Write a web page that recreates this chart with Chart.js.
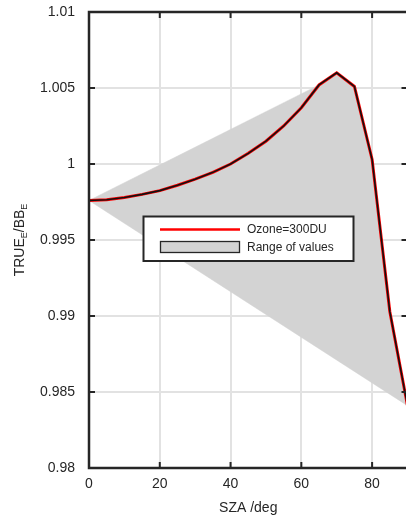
<!DOCTYPE html>
<html>
<head>
<meta charset="utf-8">
<script src="https://cdn.jsdelivr.net/npm/chart.js@4.4.1/dist/chart.umd.min.js"></script>
<style>
  html, body { margin: 0; padding: 0; background: #fff; overflow: hidden; }
  #wrap { width: 410px; height: 517px; }
</style>
</head>
<body>
<div id="wrap"><canvas id="c" width="410" height="517"></canvas></div>
<script>
// --- DATA ---
const sza = [0, 5, 10, 15, 20, 25, 30, 35, 40, 45, 50, 55, 60, 65, 70, 75, 80, 85, 90];
const ratio300 = [0.9976, 0.99765, 0.9978, 0.9980, 0.99825, 0.9986, 0.9990, 0.99945, 1.0000, 1.0007,
                  1.0015, 1.0025, 1.0037, 1.0052, 1.0060, 1.0051, 1.0003, 0.9903, 0.9841];
// outline of the range band (from the starting point to the curve)
const rangeTopSza = [0, 65, 70, 75, 80, 85, 90];
const rangeTopVal = [0.9976, 1.0052, 1.0060, 1.0051, 1.0003, 0.9903, 0.9841];
const rangeBotSza = [0, 90];
const rangeBotVal = [0.9976, 0.9841];
const xTicks = [0, 20, 40, 60, 80];
const yTicks = [0.98, 0.985, 0.99, 0.995, 1, 1.005, 1.01];

const pts = (xs, ys) => xs.map((x, i) => ({ x: x, y: ys[i] }));
const INK = '#262626';
const FONT = '"Liberation Sans", Arial, sans-serif';

// frame, inward ticks, axis title with subscripts, legend
const decor = {
  id: 'decor',
  afterDraw(chart) {
    const ctx = chart.ctx;
    const a = chart.chartArea;
    const xs = chart.scales.x, ys = chart.scales.y;
    ctx.save();
    ctx.strokeStyle = INK;
    ctx.lineWidth = 2.5;
    ctx.beginPath();
    ctx.moveTo(a.right, a.top); ctx.lineTo(a.left, a.top);
    ctx.lineTo(a.left, a.bottom); ctx.lineTo(a.right, a.bottom);
    ctx.lineTo(a.right, a.top);
    ctx.stroke();
    ctx.lineWidth = 2;
    ctx.beginPath();
    yTicks.forEach(v => {
      const p = ys.getPixelForValue(v);
      ctx.moveTo(a.left, p); ctx.lineTo(a.left + 6, p);
      ctx.moveTo(a.right, p); ctx.lineTo(a.right - 6, p);
    });
    xTicks.forEach(v => {
      const p = xs.getPixelForValue(v);
      ctx.moveTo(p, a.bottom); ctx.lineTo(p, a.bottom - 6);
      ctx.moveTo(p, a.top); ctx.lineTo(p, a.top + 6);
    });
    ctx.stroke();

    // y title: TRUE_E/BB_E
    ctx.fillStyle = INK;
    ctx.textBaseline = 'alphabetic';
    ctx.textAlign = 'left';
    const parts = [['TRUE', 14, 0], ['E', 9, 3], ['/BB', 14, 0], ['E', 9, 3]];
    let total = 0;
    parts.forEach(p => { ctx.font = p[1] + 'px ' + FONT; total += ctx.measureText(p[0]).width; });
    ctx.translate(24, (a.top + a.bottom) / 2);
    ctx.rotate(-Math.PI / 2);
    let cx = -total / 2;
    parts.forEach(p => {
      ctx.font = p[1] + 'px ' + FONT;
      ctx.fillText(p[0], cx, p[2]);
      cx += ctx.measureText(p[0]).width;
    });
    ctx.setTransform(1, 0, 0, 1, 0, 0);

    // legend
    ctx.fillStyle = '#fff';
    ctx.fillRect(143.5, 216.5, 210, 44.5);
    ctx.strokeStyle = INK;
    ctx.lineWidth = 2;
    ctx.strokeRect(143.5, 216.5, 210, 44.5);
    ctx.strokeStyle = '#ff0000';
    ctx.lineWidth = 2.5;
    ctx.beginPath(); ctx.moveTo(160, 229.5); ctx.lineTo(240, 229.5); ctx.stroke();
    ctx.fillStyle = '#d3d3d3';
    ctx.fillRect(160.5, 241.5, 79, 11);
    ctx.strokeStyle = INK;
    ctx.lineWidth = 1.3;
    ctx.strokeRect(160.5, 241.5, 79, 11);
    ctx.fillStyle = INK;
    ctx.font = '12px ' + FONT;
    ctx.textBaseline = 'middle';
    ctx.fillText('Ozone=300DU', 247, 230);
    ctx.fillText('Range of values', 247, 247.5);
    ctx.restore();
  }
};

new Chart(document.getElementById('c'), {
  type: 'scatter',
  data: {
    datasets: [
      { label: 'range top', data: pts(rangeTopSza, rangeTopVal), showLine: true, fill: '+1',
        backgroundColor: '#d3d3d3', borderColor: '#d3d3d3', borderWidth: 0.5, pointRadius: 0, order: 3 },
      { label: 'range bottom', data: pts(rangeBotSza, rangeBotVal), showLine: true, fill: false,
        borderColor: '#d3d3d3', borderWidth: 0.5, pointRadius: 0, order: 3 },
      { label: 'Ozone=300DU', data: pts(sza, ratio300), showLine: true, fill: false,
        borderColor: '#ff0000', borderWidth: 3, pointRadius: 0, order: 2 },
      { label: 'Ozone=300DU black', data: pts(sza, ratio300), showLine: true, fill: false,
        borderColor: '#111', borderWidth: 1.6, pointRadius: 0, order: 1 }
    ]
  },
  options: {
    responsive: false,
    animation: false,
    layout: { padding: { left: 0, top: 12, right: 2.5, bottom: 0 } },
    plugins: { legend: { display: false }, tooltip: { enabled: false } },
    scales: {
      x: {
        type: 'linear', min: 0, max: 90,
        afterBuildTicks: s => { s.ticks = xTicks.map(v => ({ value: v })); },
        afterFit: s => { s.height = 49; s.paddingLeft = 0; s.paddingRight = 0; },
        grid: { color: '#e2e2e2', lineWidth: 2, drawTicks: false },
        border: { display: false },
        ticks: { color: INK, font: { family: FONT, size: 14 }, padding: 8, maxRotation: 0 },
        title: { display: true, text: 'SZA /deg', color: INK, font: { family: FONT, size: 14 }, padding: { top: 4, bottom: 0 } }
      },
      y: {
        type: 'linear', min: 0.98, max: 1.01,
        afterBuildTicks: s => { s.ticks = yTicks.map(v => ({ value: v })); },
        afterFit: s => { s.width = 89; s.paddingTop = 0; s.paddingBottom = 0; },
        grid: { color: '#e2e2e2', lineWidth: 2, drawTicks: false },
        border: { display: false },
        ticks: { color: INK, font: { family: FONT, size: 14 }, padding: 14,
                 callback: v => String(Number(v.toFixed(3))) }
      }
    }
  },
  plugins: [decor]
});
</script>
</body>
</html>
